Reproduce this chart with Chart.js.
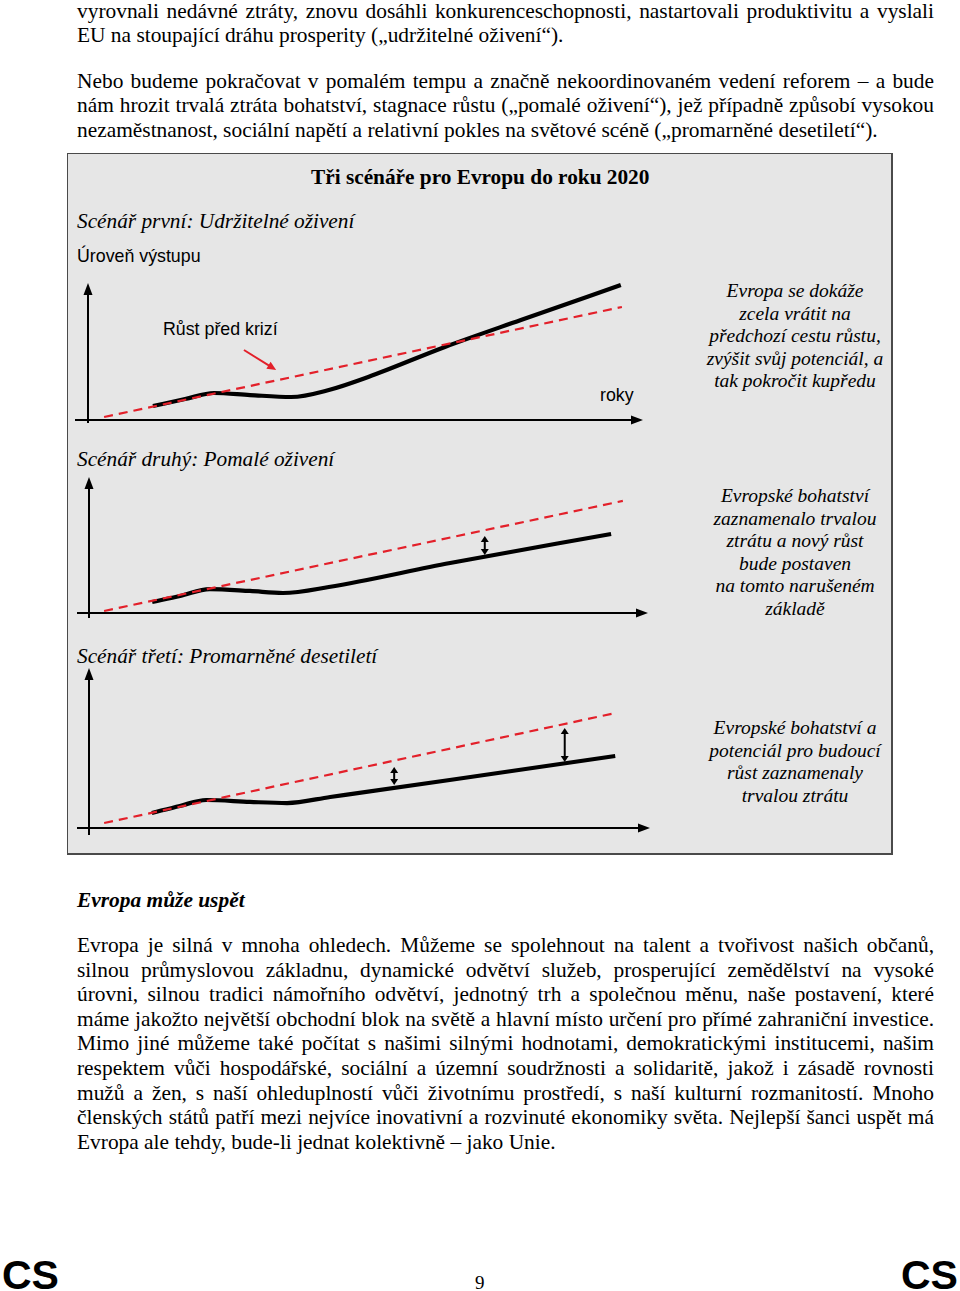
<!DOCTYPE html>
<html lang="cs">
<head>
<meta charset="utf-8">
<script src="https://cdn.jsdelivr.net/npm/chart.js@4.4.1/dist/chart.umd.min.js"></script>
<style>
  html, body { margin: 0; padding: 0; background: #fff; }
  #page { position: relative; width: 960px; height: 1291px; overflow: hidden; }
  .t { position: absolute; font-family: "Liberation Serif", "Times New Roman", serif; font-size: 21.4px; line-height: 24px; color: #000; white-space: nowrap; }
  .j { left: 77px; width: 857px; text-align: justify; text-align-last: justify; white-space: normal; }
  .l { left: 77px; }
  .s { position: absolute; font-family: "Liberation Sans", Arial, sans-serif; font-size: 17.8px; line-height: 20px; color: #000; white-space: nowrap; }
  .d { position: absolute; left: 695px; width: 200px; text-align: center; font-family: "Liberation Serif", serif; font-style: italic; font-size: 19.5px; line-height: 22.5px; color: #000; }
  #fig { position: absolute; left: 67px; top: 153px; width: 826px; height: 702px; box-sizing: border-box; border: 1px solid #4a4a4a; border-right-width: 2px; border-bottom-width: 2px; background: #e6e6e6; }
  canvas { position: absolute; }
</style>
</head>
<body>
<div id="page">
  <div class="t j" style="top:-1px">vyrovnali nedávné ztráty, znovu dosáhli konkurenceschopnosti, nastartovali produktivitu a vyslali</div>
  <div class="t l" style="top:23px">EU na stoupající dráhu prosperity („udržitelné oživení“).</div>
  <div class="t j" style="top:69px">Nebo budeme pokračovat v pomalém tempu a značně nekoordinovaném vedení reforem – a bude</div>
  <div class="t j" style="top:93px">nám hrozit trvalá ztráta bohatství, stagnace růstu („pomalé oživení“), jež případně způsobí vysokou</div>
  <div class="t l" style="top:118px">nezaměstnanost, sociální napětí a relativní pokles na světové scéně („promarněné desetiletí“).</div>

  <div id="fig"></div>
  <div class="t" style="left:311px;top:165px;font-weight:bold;font-size:21.3px">Tři scénáře pro Evropu do roku 2020</div>
  <div class="t" style="left:77px;top:209px;font-style:italic;font-size:21.3px">Scénář první: Udržitelné oživení</div>
  <div class="s" style="left:77px;top:246px">Úroveň výstupu</div>
  <div class="s" style="left:163px;top:319px">Růst před krizí</div>
  <div class="s" style="left:600px;top:385px">roky</div>
  <div class="d" style="top:280px">Evropa se dokáže<br>zcela vrátit na<br>předchozí cestu růstu,<br>zvýšit svůj potenciál, a<br>tak pokročit kupředu</div>

  <div class="t" style="left:77px;top:447px;font-style:italic;font-size:21.3px">Scénář druhý: Pomalé oživení</div>
  <div class="d" style="top:485px">Evropské bohatství<br>zaznamenalo trvalou<br>ztrátu a nový růst<br>bude postaven<br>na tomto narušeném<br>základě</div>

  <div class="t" style="left:77px;top:644px;font-style:italic;font-size:21.3px">Scénář třetí: Promarněné desetiletí</div>
  <div class="d" style="top:717px">Evropské bohatství a<br>potenciál pro budoucí<br>růst zaznamenaly<br>trvalou ztrátu</div>

  <canvas id="c1" width="600" height="160" style="left:60px;top:270px"></canvas>
  <canvas id="c2" width="600" height="160" style="left:60px;top:465px"></canvas>
  <canvas id="c3" width="600" height="190" style="left:60px;top:655px"></canvas>

  <div class="t l" style="top:888px;font-weight:bold;font-style:italic">Evropa může uspět</div>
  <div class="t j" style="top:933px">Evropa je silná v mnoha ohledech. Můžeme se spolehnout na talent a tvořivost našich občanů,</div>
  <div class="t j" style="top:958px">silnou průmyslovou základnu, dynamické odvětví služeb, prosperující zemědělství na vysoké</div>
  <div class="t j" style="top:982px">úrovni, silnou tradici námořního odvětví, jednotný trh a společnou měnu, naše postavení, které</div>
  <div class="t j" style="top:1007px">máme jakožto největší obchodní blok na světě a hlavní místo určení pro přímé zahraniční investice.</div>
  <div class="t j" style="top:1031px">Mimo jiné můžeme také počítat s našimi silnými hodnotami, demokratickými institucemi, našim</div>
  <div class="t j" style="top:1056px">respektem vůči hospodářské, sociální a územní soudržnosti a solidaritě, jakož i zásadě rovnosti</div>
  <div class="t j" style="top:1081px">mužů a žen, s naší ohleduplností vůči životnímu prostředí, s naší kulturní rozmanitostí. Mnoho</div>
  <div class="t j" style="top:1105px">členských států patří mezi nejvíce inovativní a rozvinuté ekonomiky světa. Nejlepší šanci uspět má</div>
  <div class="t l" style="top:1130px">Evropa ale tehdy, bude-li jednat kolektivně – jako Unie.</div>

  <div style="position:absolute;left:2px;top:1252px;font-family:'Liberation Sans',Arial,sans-serif;font-weight:bold;font-size:41px;line-height:46px">CS</div>
  <div style="position:absolute;left:901px;top:1252px;font-family:'Liberation Sans',Arial,sans-serif;font-weight:bold;font-size:41px;line-height:46px">CS</div>
  <div class="t" style="left:475px;top:1271px;font-size:19px">9</div>
</div>

<script>
// ---- Data (x: years axis units 0–100, y: output level units 0–100) ----
// Scenario 1: sustainable recovery
const s1OutputX = [11.7, 17.5, 22.7, 29.2, 36.6, 43.4, 50.5, 64.3, 78.0, 96.0];
const s1OutputY = [10.2, 15.3, 19.7, 18.2, 16.8, 21.9, 31.4, 53.3, 73.0, 98.5];
const s1TrendX  = [2.9, 96.2];
const s1TrendY  = [2.2, 82.5];
const s1PointerFrom = [28.1, 51.1];
const s1PointerTo   = [33.9, 36.5];

// Scenario 2: sluggish recovery
const s2OutputX = [11.3, 16.3, 21.6, 28.8, 34.7, 42.9, 64.6, 93.4];
const s2OutputY = [8.1, 12.5, 17.6, 16.2, 14.7, 19.1, 36.8, 58.1];
const s2TrendX  = [2.7, 95.5];
const s2TrendY  = [1.5, 82.4];
const s2GapX      = [70.8];
const s2GapTop    = [56.6];
const s2GapBottom = [42.6];

// Scenario 3: lost decade
const s3OutputX = [11.2, 16.2, 20.9, 28.7, 35.3, 43.0, 64.3, 93.8];
const s3OutputY = [9.4, 13.8, 17.5, 16.3, 15.6, 19.4, 30.0, 45.0];
const s3TrendX  = [2.7, 93.9];
const s3TrendY  = [3.1, 71.9];
const s3GapX      = [54.4, 84.8];
const s3GapTop    = [38.1, 62.5];
const s3GapBottom = [26.9, 41.3];

const RED = '#e3202a';

function pts(xs, ys) { return xs.map((x, i) => ({ x: x, y: ys[i] })); }

function head(ctx, x, y, angle, len, wid) {
  ctx.save();
  ctx.translate(x, y);
  ctx.rotate(angle);
  ctx.beginPath();
  ctx.moveTo(0, 0);
  ctx.lineTo(-len, -wid / 2);
  ctx.lineTo(-len, wid / 2);
  ctx.closePath();
  ctx.fill();
  ctx.restore();
}

const axesPlugin = {
  id: 'arrowAxes',
  beforeDatasetsDraw(chart, args, o) {
    const ctx = chart.ctx, xs = chart.scales.x, ys = chart.scales.y;
    const x0 = xs.getPixelForValue(0), y0 = ys.getPixelForValue(0);
    const xe = xs.getPixelForValue(xs.max), ye = ys.getPixelForValue(ys.max);
    ctx.save();
    ctx.strokeStyle = '#000'; ctx.fillStyle = '#000'; ctx.lineWidth = 2;
    ctx.beginPath();
    ctx.moveTo(x0 - o.left, y0); ctx.lineTo(xe - 8, y0);
    ctx.moveTo(x0, y0 + o.below); ctx.lineTo(x0, ye + 8);
    ctx.stroke();
    head(ctx, xe, y0, 0, 12, 9);
    head(ctx, x0, ye, -Math.PI / 2, 12, 9);
    ctx.restore();
  }
};

const marksPlugin = {
  id: 'marks',
  afterDatasetsDraw(chart, args, o) {
    const ctx = chart.ctx, xs = chart.scales.x, ys = chart.scales.y;
    ctx.save();
    if (o.gapX) {
      ctx.strokeStyle = '#000'; ctx.fillStyle = '#000'; ctx.lineWidth = 2;
      o.gapX.forEach((gx, i) => {
        const px = xs.getPixelForValue(gx);
        const pt = ys.getPixelForValue(o.gapTop[i]);
        const pb = ys.getPixelForValue(o.gapBottom[i]);
        ctx.beginPath(); ctx.moveTo(px, pt + 5); ctx.lineTo(px, pb - 5); ctx.stroke();
        head(ctx, px, pt, -Math.PI / 2, 6, 8);
        head(ctx, px, pb, Math.PI / 2, 6, 8);
      });
    }
    if (o.pointerFrom) {
      const fx = xs.getPixelForValue(o.pointerFrom[0]), fy = ys.getPixelForValue(o.pointerFrom[1]);
      const tx = xs.getPixelForValue(o.pointerTo[0]), ty = ys.getPixelForValue(o.pointerTo[1]);
      const ang = Math.atan2(ty - fy, tx - fx);
      ctx.strokeStyle = RED; ctx.fillStyle = RED; ctx.lineWidth = 2;
      ctx.beginPath(); ctx.moveTo(fx, fy); ctx.lineTo(tx - 6 * Math.cos(ang), ty - 6 * Math.sin(ang)); ctx.stroke();
      head(ctx, tx, ty, ang, 9, 8);
    }
    ctx.restore();
  }
};

function makeChart(id, outX, outY, trX, trY, pad, axisOpt, marks) {
  return new Chart(document.getElementById(id), {
    type: 'line',
    data: {
      datasets: [
        { label: 'Trend růstu před krizí', data: pts(trX, trY), borderColor: RED, borderWidth: 2.2,
          borderDash: [9, 6], pointRadius: 0, fill: false, tension: 0, clip: false },
        { label: 'Úroveň výstupu', data: pts(outX, outY), borderColor: '#000', borderWidth: 4.2,
          pointRadius: 0, fill: false, cubicInterpolationMode: 'monotone', clip: false, borderCapStyle: 'butt' }
      ]
    },
    options: {
      responsive: false, animation: false, events: [],
      layout: { padding: pad },
      scales: {
        x: { type: 'linear', min: 0, max: 100, display: false },
        y: { type: 'linear', min: 0, max: 100, display: false }
      },
      plugins: { legend: { display: false }, tooltip: { enabled: false },
                 arrowAxes: axisOpt, marks: marks }
    },
    plugins: [axesPlugin, marksPlugin]
  });
}

makeChart('c1', s1OutputX, s1OutputY, s1TrendX, s1TrendY,
  { left: 28, right: 17, top: 13, bottom: 10 }, { left: 13, below: 3 },
  { pointerFrom: s1PointerFrom, pointerTo: s1PointerTo });
makeChart('c2', s2OutputX, s2OutputY, s2TrendX, s2TrendY,
  { left: 29, right: 12, top: 12, bottom: 12 }, { left: 12, below: 5 },
  { gapX: s2GapX, gapTop: s2GapTop, gapBottom: s2GapBottom });
makeChart('c3', s3OutputX, s3OutputY, s3TrendX, s3TrendY,
  { left: 29, right: 10, top: 13, bottom: 17 }, { left: 12, below: 7 },
  { gapX: s3GapX, gapTop: s3GapTop, gapBottom: s3GapBottom });
</script>
</body>
</html>
